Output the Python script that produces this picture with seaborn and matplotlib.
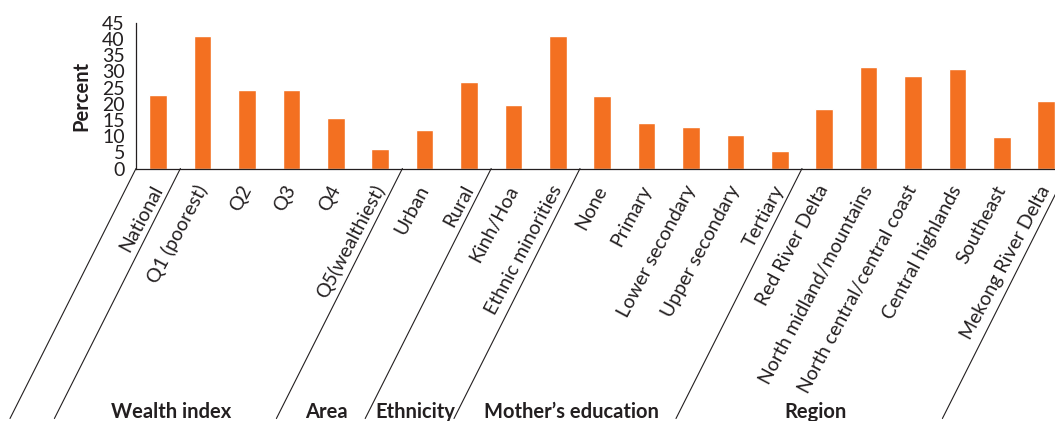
import matplotlib
matplotlib.use("Agg")
import matplotlib.pyplot as plt
import seaborn as sns
import pandas as pd

# Data
categories = ['National', 'Q1 (poorest)', 'Q2', 'Q3', 'Q4', 'Q5(wealthiest)',
              'Urban', 'Rural', 'Kinh/Hoa', 'Ethnic minorities',
              'None', 'Primary', 'Lower secondary', 'Upper secondary', 'Tertiary',
              'Red River Delta', 'North midland/mountains', 'North central/central coast',
              'Central highlands', 'Southeast', 'Mekong River Delta']
percent = [22.7, 41.0, 24.2, 24.2, 15.6, 6.0,
           11.9, 26.7, 19.6, 41.0,
           22.4, 14.0, 12.8, 10.3, 5.4,
           18.4, 31.4, 28.6, 30.7, 9.7, 20.8]
group_names = ['Wealth index', 'Area', 'Ethnicity', 'Mother\u2019s education', 'Region']
group_bounds = [1, 6, 8, 10, 15, 21]   # category index where each group starts/ends
y_ticks = list(range(0, 50, 5))

df = pd.DataFrame({'category': categories, 'percent': percent})

sns.set_style('white')
plt.rcParams['font.family'] = ['Lato', 'DejaVu Sans']
ink = '#231f20'
orange = '#f37021'

fig = plt.figure(figsize=(10.55, 4.21), dpi=100)
ax = fig.add_axes([136 / 1055, 1 - 168.5 / 421, 932.4 / 1055, 145.5 / 421])

sns.barplot(data=df, x='category', y='percent', color=orange, width=0.4,
            saturation=1, ax=ax)

ax.set_ylim(0, 45)
ax.set_xlim(-0.5, len(categories) - 0.5)
ax.set_yticks(y_ticks)
ax.set_yticklabels([str(v) for v in y_ticks], fontsize=14, color=ink)
ax.set_ylabel('Percent', fontsize=14.5, fontweight='bold', color=ink, labelpad=8)
ax.set_xlabel('')
sns.despine(ax=ax)
for s in ['left', 'bottom']:
    ax.spines[s].set_color(ink)
    ax.spines[s].set_linewidth(0.9)
ax.tick_params(axis='y', direction='out', length=6, width=0.9, color=ink, pad=2)

# category labels, rotated
ax.set_xticks(range(len(categories)))
ax.set_xticklabels(categories, rotation=62, ha='right', va='center',
                   rotation_mode='anchor', fontsize=14, color=ink)
ax.tick_params(axis='x', which='major', length=0, pad=13)

# small ticks between categories, long slanted lines between groups
inner = [b - 0.5 for b in range(2, len(categories))
         if b not in group_bounds]
ax.set_xticks(inner, minor=True)
ax.tick_params(axis='x', which='minor', direction='out', length=5, width=0.9, color=ink)

px = 72 / 100
for b in [0] + group_bounds:
    ax.annotate('', xy=(b - 0.5, 0), xycoords=('data', 'axes fraction'),
                xytext=(-126 * px, -250 * px), textcoords='offset points',
                arrowprops=dict(arrowstyle='-', color=ink, lw=0.8,
                                shrinkA=0, shrinkB=0),
                annotation_clip=False)

for name, start, end in zip(group_names, group_bounds[:-1], group_bounds[1:]):
    mid = (start + end) / 2 - 0.5
    ax.annotate(name, xy=(mid, 0), xycoords=('data', 'axes fraction'),
                xytext=(-120 * px, -249 * px), textcoords='offset points',
                ha='center', va='baseline', fontsize=14.5, fontweight='bold',
                color=ink, annotation_clip=False)

fig.savefig('out.png', dpi=100)
